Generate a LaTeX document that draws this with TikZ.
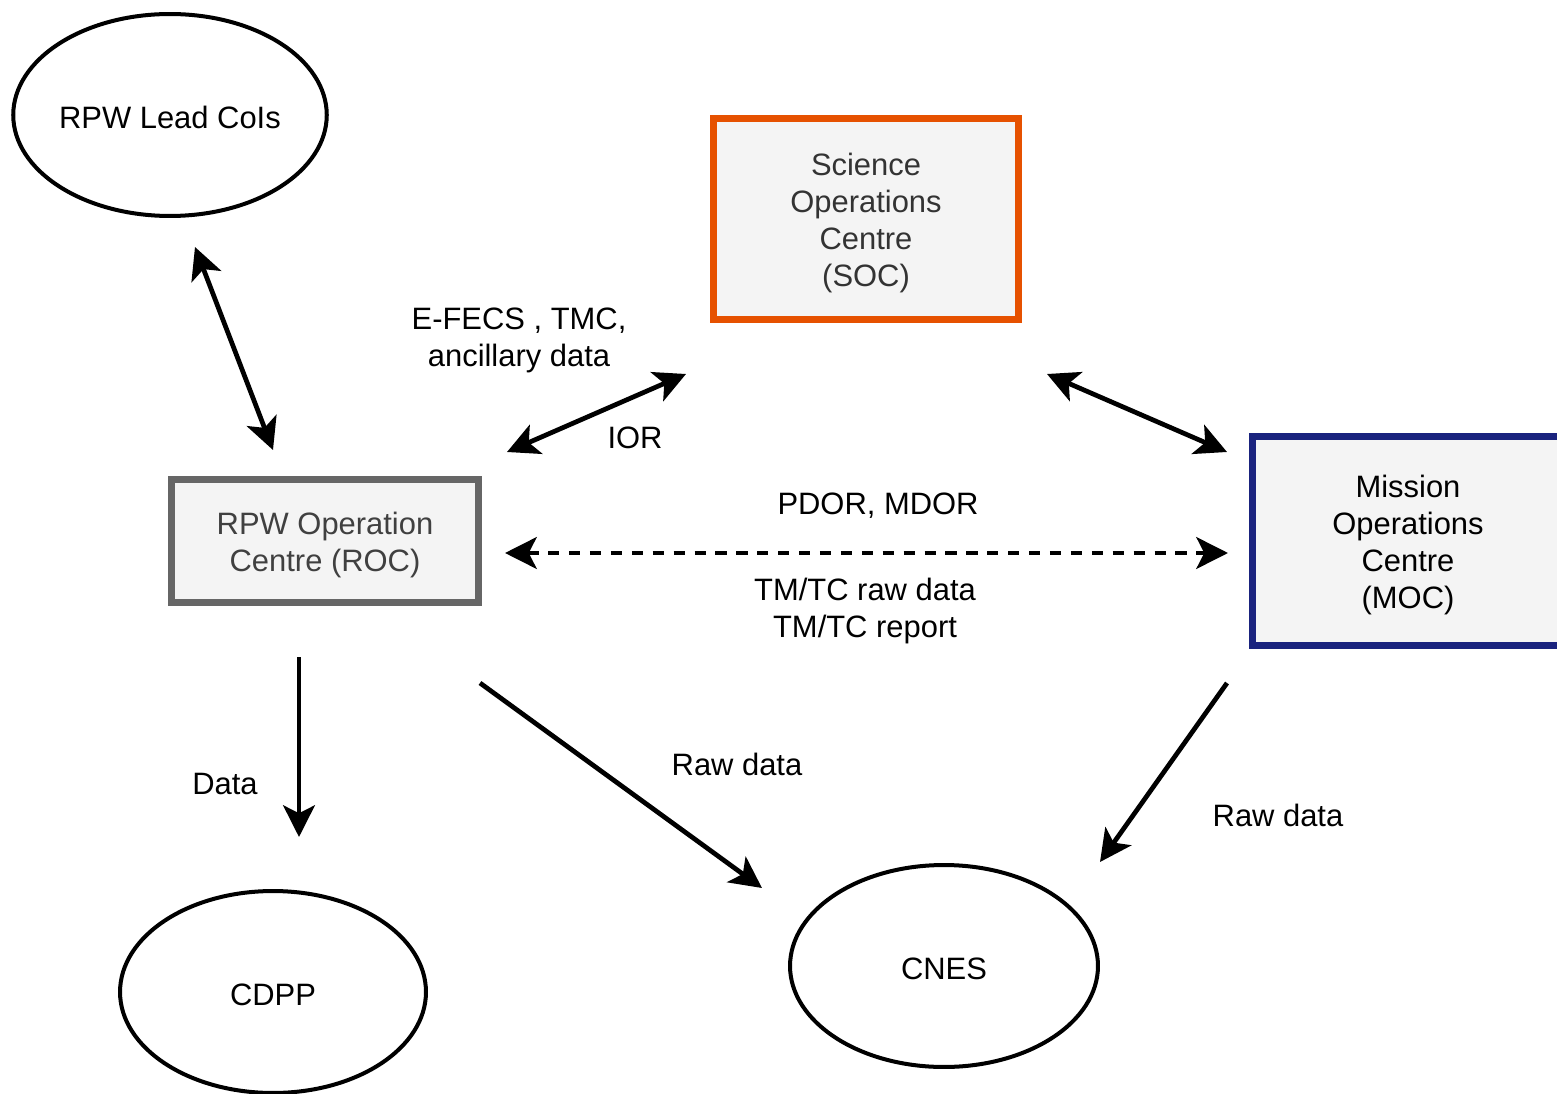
\documentclass[tikz,border=0pt]{standalone}
\usepackage{fontspec}
\setmainfont{Liberation Sans}
\usetikzlibrary{shapes.geometric,arrows.meta}
\definecolor{socorange}{RGB}{230,81,0}
\definecolor{mocnavy}{RGB}{26,35,126}
\definecolor{rocgray}{RGB}{102,102,102}
\definecolor{boxfill}{RGB}{244,244,244}
\definecolor{soctext}{RGB}{51,51,51}
\definecolor{roctext}{RGB}{64,64,64}
\newcommand\dnstrut{\rule{0pt}{0.62cm}}
\newcommand\dnsmall{\rule{0pt}{0.54cm}}
\begin{document}
\begin{tikzpicture}[x=0.02cm,y=-0.02cm,
  every node/.style={font=\fontsize{17.6}{21.1}\selectfont, align=center},
  oval/.style={ellipse, draw, line width=2.28pt, minimum width=6.12cm, minimum height=4.04cm, inner sep=0pt},
  boxnode/.style={rectangle, draw, line width=3.98pt, fill=boxfill, inner sep=0pt},
  conn/.style={line width=2.7pt, -{Stealth[length=18pt,width=18pt,inset=4.5pt]}},
  biconn/.style={line width=2.7pt, {Stealth[length=18pt,width=18pt,inset=4.5pt]}-{Stealth[length=18pt,width=18pt,inset=4.5pt]}},
  dashconn/.style={line width=2.7pt, dash pattern=on 6.4pt off 5.5pt, {Stealth[length=18pt,width=18pt,inset=4.5pt]}-{Stealth[length=18pt,width=18pt,inset=4.5pt]}},
  lbl/.style={inner sep=0pt}
]
\useasboundingbox (0,0) rectangle (1557,1094);
\clip (0,0) rectangle (1557,1094);

% nodes
\node[oval] (lead) at (170,115) {\dnsmall RPW Lead CoIs};
\node[oval] (cdpp) at (273,992) {\dnsmall CDPP};
\node[oval, minimum width=6.16cm] (cnes) at (944,966) {\dnsmall CNES};

\node[boxnode, draw=socorange, text=soctext, minimum width=6.1cm, minimum height=4.02cm] (soc) at (866,219)
  {\dnstrut Science\\Operations\\Centre\\(SOC)};
\node[boxnode, draw=rocgray, text=roctext, minimum width=6.14cm, minimum height=2.46cm] (roc) at (325,541)
  {\dnstrut RPW Operation\\Centre (ROC)};
\node[boxnode, draw=none, text=black, minimum width=6.1cm, minimum height=4.06cm] (moc) at (1408,541)
  {\dnstrut Mission\\Operations\\Centre\\(MOC)};
\draw[line width=3.98pt, mocnavy] ([xshift=1.2cm]moc.north east) -- (moc.north west) -- (moc.south west) -- ([xshift=1.2cm]moc.south east);
\fill[boxfill] ([yshift=-2pt]moc.north east) rectangle ([xshift=1.2cm,yshift=2pt]moc.south east);

% connector end points
\coordinate (leadA) at (195,247);
\coordinate (rocA) at (273,450);
\coordinate (rocB) at (507,452);
\coordinate (socA) at (686,374);
\coordinate (socB) at (1047,374);
\coordinate (mocA) at (1227,452);
\coordinate (rocC) at (505,553);
\coordinate (mocB) at (1228,553);
\coordinate (rocD) at (299,657);
\coordinate (cdppA) at (299,837);
\coordinate (rocE) at (480,683);
\coordinate (cnesA) at (762,888);
\coordinate (mocC) at (1227,683);
\coordinate (cnesB) at (1100,862);

% connectors
\draw[biconn] (leadA) -- (rocA);
\draw[biconn] (rocB) -- (socA);
\draw[biconn] (socB) -- (mocA);
\draw[dashconn] (rocC) -- (mocB);
\draw[conn] (rocD) -- (cdppA);
\draw[conn] (rocE) -- (cnesA);
\draw[conn] (mocC) -- (cnesB);

% labels
\node[lbl] (l1) at (519,340) {E-FECS , TMC,\\ancillary data};
\node[lbl] (l2) at (635,438) {IOR};
\node[lbl] (l3) at (878,506) {PDOR, MDOR};
\node[lbl] (l4) at (865,611) {TM/TC raw data\\TM/TC report};
\node[lbl] (l5) at (225,784) {Data};
\node[lbl] (l6) at (737,764) {Raw data};
\node[lbl] (l7) at (1278,815) {Raw data};
\end{tikzpicture}
\end{document}
